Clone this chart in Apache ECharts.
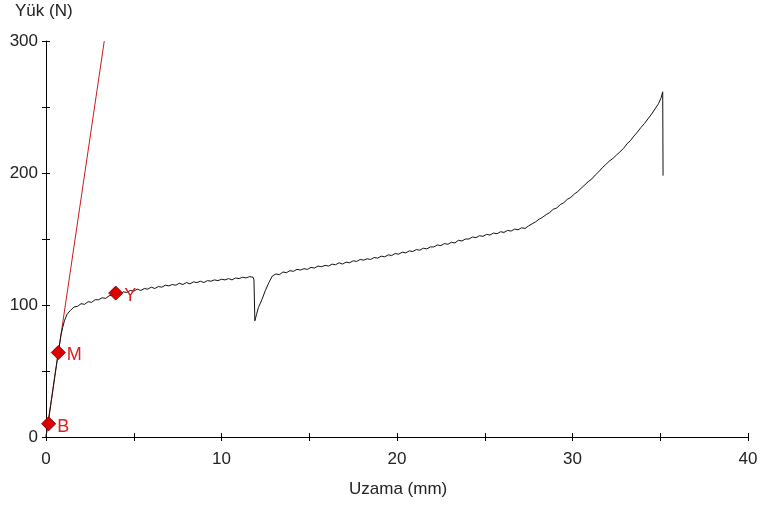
<!DOCTYPE html>
<html><head><meta charset="utf-8">
<script src="https://cdn.jsdelivr.net/npm/echarts@6/dist/echarts.min.js"></script>
<style>html,body{margin:0;padding:0;background:#fff}#c{width:761px;height:512px}</style>
</head><body><div id="c"></div>
<script>
var curveX = [0,0.1,0.3,0.5,0.7,0.85,0.95,1.05,1.2,1.4,1.6,1.8,2.0,2.2,2.4,2.6,2.8,3.0,3.2,3.4,3.6,3.8,4.0,4.2,4.4,4.6,4.8,5.0,5.2,5.4,5.6,5.8,6.0,6.2,6.4,6.6,6.8,7.0,7.2,7.4,7.6,7.8,8.0,8.2,8.4,8.6,8.8,9.0,9.2,9.4,9.6,9.8,10.0,10.2,10.4,10.6,10.8,11.0,11.2,11.4,11.6,11.8,11.85,11.9,12.0,12.1,12.3,12.5,12.7,12.9,13.1,13.3,13.5,13.7,13.9,14.1,14.3,14.5,14.7,14.9,15.1,15.3,15.5,15.7,15.9,16.1,16.3,16.5,16.7,16.9,17.1,17.3,17.5,17.7,17.9,18.1,18.3,18.5,18.7,18.9,19.1,19.3,19.5,19.7,19.9,20.1,20.3,20.5,20.7,20.9,21.1,21.3,21.5,21.7,21.9,22.1,22.3,22.5,22.7,22.9,23.1,23.3,23.5,23.7,23.9,24.1,24.3,24.5,24.7,24.9,25.1,25.3,25.5,25.7,25.9,26.1,26.3,26.5,26.7,26.9,27.1,27.3,27.5,27.7,27.9,28.1,28.3,28.5,28.7,28.9,29.1,29.3,29.5,29.7,29.9,30.1,30.3,30.5,30.7,30.9,31.1,31.3,31.5,31.7,31.9,32.1,32.3,32.5,32.7,32.9,33.1,33.3,33.5,33.7,33.9,34.1,34.3,34.5,34.7,34.9,35.05,35.14,35.16];
var curveY = [0,9,27,46,64,77,83,88,93,96,98.5,99,101,100.5,102.5,102,104,104,105.5,105,107,107.5,108.5,108,110,109.5,111,110.5,112,111,112.5,112,113.5,112.5,114,113.5,115,114.5,115.5,115,116.5,115.5,117,116,117.5,117,118,117,118.5,118,119,118.5,119.5,119,120,119,120.5,120,121,120.5,121.5,121,119,88,93,98,104,111,117,122,123.5,123,125,124.5,126,125.5,127,126.5,127.5,127,128.5,128,129.5,129,130,129.5,131,130.5,132,131,132.5,132,133.5,133,134.5,134,135,134.5,136,135.5,137,136.5,138,137.5,139,138.5,140,139.5,141,140.5,142,141.5,143,142.5,144,144,145.5,145,146.5,146,147.5,147,149,148.5,150,150,151.5,151,152.5,152,153.5,153,154.5,154,155.5,155,156.5,156,157.5,157,158.5,158,160,161.5,163,165,166.5,168.5,170,172.5,173.5,176,177.5,180,181.5,184,186,188.5,191,193.5,195.5,198.5,201,204,206.5,209,211,213.5,216,218.5,222,224.5,228,231,234.5,237.5,241,244.5,248.5,252.5,257,261.5,198];
var slopeX = [0, 3.32];
var slopeY = [0.5, 300];
var pointNames = ['B','M','Y'];
var pointX = [0.15, 0.7, 3.97];
var pointY = [10, 64, 109];
var xTicks = [0,10,20,30,40];
var yTicks = [0,100,200,300];

var FONT = "'Liberation Sans',Arial,sans-serif";
var chart = echarts.init(document.getElementById('c'), null, {renderer:'canvas'});
function pairs(a,b){return a.map(function(v,i){return [v,b[i]];});}
var axisLbl = {fontFamily:FONT, fontSize:17, color:'#222'};
var opt = {
  animation:false,
  backgroundColor:'#fff',
  grid:{left:46,right:13,top:41,bottom:75,containLabel:false},
  xAxis:[{
    type:'value',min:0,max:40,interval:5,
    axisLine:{lineStyle:{color:'#000',width:1}},
    axisTick:{length:4,lineStyle:{color:'#000'}},
    splitLine:{show:false},
    axisLabel:Object.assign({margin:14,formatter:function(v){return xTicks.indexOf(v)>=0?String(v):'';}},axisLbl)
  },{
    type:'value',min:0,max:40,interval:5,position:'bottom',
    axisLine:{show:false},
    axisTick:{inside:true,length:4,lineStyle:{color:'#000'}},
    splitLine:{show:false},axisLabel:{show:false}
  }],
  yAxis:[{
    type:'value',min:0,max:300,interval:50,
    axisLine:{show:true,lineStyle:{color:'#000',width:1}},
    axisTick:{show:true,length:4,lineStyle:{color:'#000'}},
    splitLine:{show:false},
    axisLabel:Object.assign({margin:8,formatter:function(v){return yTicks.indexOf(v)>=0?String(v):'';}},axisLbl)
  },{
    type:'value',min:0,max:300,interval:50,position:'left',
    axisLine:{show:false},
    axisTick:{show:true,inside:true,length:4,lineStyle:{color:'#000'}},
    splitLine:{show:false},axisLabel:{show:false}
  }],
  graphic:[
    {type:'text',left:15,top:3,style:{text:'Yük (N)',font:'17px '+FONT,fill:'#222'}},
    {type:'text',left:349,top:481,style:{text:'Uzama (mm)',font:'17px '+FONT,fill:'#222'}}
  ],
  series:[
    {type:'line',data:pairs(slopeX,slopeY),symbol:'none',lineStyle:{color:'#cc1a1a',width:1},z:2},
    {type:'line',data:pairs(curveX,curveY),symbol:'none',lineStyle:{color:'#111',width:1},z:3},
    {type:'scatter',data:pointX.map(function(v,i){return {value:[v,pointY[i]],name:pointNames[i]};}),
      symbol:'diamond',symbolSize:[14,14],
      itemStyle:{color:'#dd0000',borderColor:'#8a0000',borderWidth:1,opacity:1},
      label:{show:true,position:'right',distance:1,formatter:'{b}',fontFamily:FONT,fontSize:18,color:'#dd2020',offset:[0,3]},
      z:4}
  ]
};
chart.setOption(opt);
</script></body></html>
